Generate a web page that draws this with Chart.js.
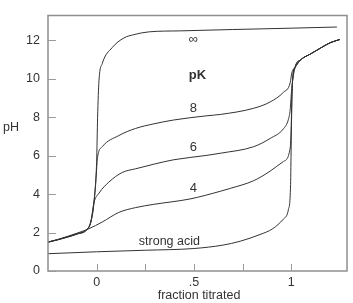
<!DOCTYPE html>
<html>
<head>
<meta charset="utf-8">
<script src="https://cdn.jsdelivr.net/npm/chart.js@4.4.0/dist/chart.umd.min.js"></script>
<style>
  html, body { margin: 0; padding: 0; background: #fff; }
  #wrap { width: 353px; height: 303px; }
</style>
</head>
<body>
<div id="wrap"><canvas id="c" width="353" height="303"></canvas></div>
<script>
// ---- data ----
const xTicks = [0, 0.25, 0.5, 0.75, 1];
const xTickLabels = ["0", "", ".5", "", "1"];
const yTicks = [0, 2, 4, 6, 8, 10, 12];

const infX  = [-0.25,-0.2,-0.15,-0.1,-0.05,-0.03,-0.014,0,0.005,0.012,0.029,0.08,0.14,0.19,0.27,0.43,0.7,1.0,1.235];
const infPH = [1.5,1.62,1.76,1.92,2.15,2.55,3.55,5.7,8.0,9.9,10.8,11.63,12.13,12.3,12.45,12.5,12.57,12.64,12.7];

const pk8X  = [-0.25,-0.2,-0.15,-0.1,-0.05,-0.03,-0.014,0,0.003,0.029,0.114,0.2,0.294,0.396,0.567,0.636,0.807,0.892,0.96,0.995,1.003,1.02,1.05,1.1,1.15,1.2,1.25];
const pk8PH = [1.51,1.63,1.77,1.93,2.16,2.55,3.55,5.3,5.8,6.47,7.05,7.42,7.66,7.86,8.08,8.15,8.47,8.8,9.3,9.8,10.3,10.6,11.0,11.3,11.6,11.88,12.05];

const pk6X  = [-0.25,-0.2,-0.15,-0.1,-0.05,-0.03,-0.014,0.012,0.063,0.132,0.2,0.294,0.396,0.567,0.636,0.807,0.892,0.96,0.986,0.995,1.003,1.02,1.05,1.1,1.15,1.2,1.25];
const pk6PH = [1.5,1.63,1.78,1.95,2.17,2.55,3.55,4.05,4.63,5.13,5.32,5.56,5.79,6.02,6.13,6.47,6.9,7.4,7.9,8.4,9.5,10.6,11.0,11.3,11.6,11.88,12.05];

const pk4X  = [-0.25,-0.2,-0.15,-0.1,-0.04,0.029,0.114,0.2,0.294,0.48,0.636,0.687,0.807,0.892,0.96,0.995,1.0,1.005,1.02,1.05,1.1,1.15,1.2,1.25];
const pk4PH = [1.5,1.64,1.8,1.97,2.2,2.55,3.05,3.3,3.47,3.75,4.15,4.3,4.7,5.2,5.7,6.4,7.5,9.5,10.6,11.0,11.3,11.6,11.88,12.05];

const saX  = [-0.25,0,0.25,0.5,0.65,0.738,0.84,0.905,0.96,0.986,0.997,1.0,1.004,1.01,1.02,1.05,1.1,1.15,1.2,1.25];
const saPH = [0.9,1.0,1.08,1.17,1.35,1.55,1.9,2.2,2.7,3.2,4.5,6.5,9.0,10.3,10.6,11.0,11.3,11.6,11.88,12.05];

const curveLabels = [
  { text: "\u221E", x: 0.497, y: 12.05, bold: false, size: 13 },
  { text: "pK", x: 0.518, y: 10.2, bold: true, size: 13 },
  { text: "8", x: 0.497, y: 8.45, bold: false, size: 13 },
  { text: "6", x: 0.497, y: 6.45, bold: false, size: 13 },
  { text: "4", x: 0.497, y: 4.3, bold: false, size: 13 },
  { text: "strong acid", x: 0.374, y: 1.55, bold: false, size: 12.5 }
];

const FONT = "'Liberation Sans', Arial, Helvetica, sans-serif";
const LINE = "#333333";
const TEXT = "#333333";

function pts(xs, ys) { return xs.map((x, i) => ({ x: x, y: ys[i] })); }
function ds(xs, ys) {
  return {
    data: pts(xs, ys),
    borderColor: LINE,
    borderWidth: 1,
    pointRadius: 0,
    fill: false,
    cubicInterpolationMode: 'monotone'
  };
}

const decor = {
  id: 'decor',
  afterDraw(chart) {
    const ctx = chart.ctx;
    const a = chart.chartArea;
    const xs = chart.scales.x, ys = chart.scales.y;
    ctx.save();
    // frame
    ctx.strokeStyle = "#8f8f8f";
    ctx.lineWidth = 1.5;
    ctx.strokeRect(a.left, a.top, a.right - a.left, a.bottom - a.top);
    // inward ticks
    ctx.lineWidth = 1;
    ctx.strokeStyle = "#9a9a9a";
    ctx.beginPath();
    yTicks.forEach(v => {
      const py = Math.round(ys.getPixelForValue(v)) + 0.5;
      ctx.moveTo(a.left, py); ctx.lineTo(a.left + 8, py);
    });
    xTicks.forEach(v => {
      const px = Math.round(xs.getPixelForValue(v)) + 0.5;
      ctx.moveTo(px, a.bottom); ctx.lineTo(px, a.bottom - 7);
    });
    ctx.stroke();
    // curve labels
    ctx.fillStyle = TEXT;
    ctx.textAlign = 'center';
    ctx.textBaseline = 'middle';
    curveLabels.forEach(l => {
      ctx.font = (l.bold ? "bold " : "") + l.size + "px " + FONT;
      ctx.fillText(l.text, xs.getPixelForValue(l.x), ys.getPixelForValue(l.y));
    });
    // axis titles
    ctx.font = "12.5px " + FONT;
    ctx.fillText("pH", 11, 128);
    ctx.fillText("fraction titrated", 199, 296);
    ctx.restore();
  }
};

new Chart(document.getElementById('c'), {
  type: 'line',
  data: {
    datasets: [ds(infX, infPH), ds(pk8X, pk8PH), ds(pk6X, pk6PH), ds(pk4X, pk4PH), ds(saX, saPH)]
  },
  options: {
    responsive: false,
    animation: false,
    events: [],
    layout: { padding: { top: 5, right: 6, left: 0, bottom: 0 } },
    plugins: { legend: { display: false }, tooltip: { enabled: false }, title: { display: false } },
    scales: {
      x: {
        type: 'linear',
        min: -0.25, max: 1.287,
        grid: { display: false, drawTicks: false },
        border: { display: false },
        afterBuildTicks: s => { s.ticks = xTicks.map(v => ({ value: v })); },
        afterFit: s => { s.height = 32; },
        ticks: {
          padding: 4,
          color: TEXT,
          font: { family: FONT, size: 12.5 },
          maxRotation: 0,
          autoSkip: false,
          callback: (v) => { const i = xTicks.indexOf(v); return i >= 0 ? xTickLabels[i] : ""; }
        }
      },
      y: {
        min: 0, max: 13.3,
        grid: { display: false, drawTicks: false },
        border: { display: false },
        afterBuildTicks: s => { s.ticks = yTicks.map(v => ({ value: v })); },
        afterFit: s => { s.width = 48; },
        ticks: {
          padding: 8,
          color: TEXT,
          font: { family: FONT, size: 12.5 },
          autoSkip: false,
          callback: v => String(v)
        }
      }
    }
  },
  plugins: [decor]
});
</script>
</body>
</html>
